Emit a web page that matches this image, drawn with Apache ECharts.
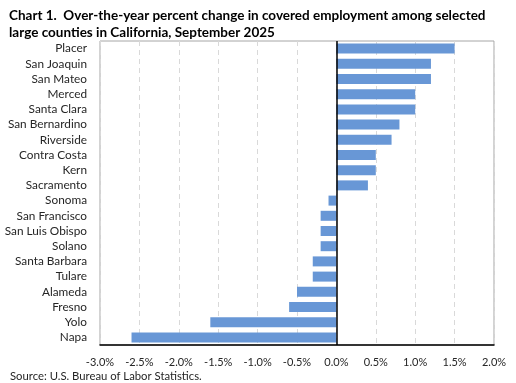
<!DOCTYPE html>
<html><head><meta charset="utf-8">
<script src="https://cdn.jsdelivr.net/npm/echarts@6/dist/echarts.min.js"></script>
<style>html,body{margin:0;padding:0;background:#fff}#c{width:516px;height:383px}</style>
</head><body><div id="c"></div>
<script>
var counties = ["Placer","San Joaquin","San Mateo","Merced","Santa Clara","San Bernardino","Riverside","Contra Costa","Kern","Sacramento","Sonoma","San Francisco","San Luis Obispo","Solano","Santa Barbara","Tulare","Alameda","Fresno","Yolo","Napa"];
var changes = [1.5,1.2,1.2,1.0,1.0,0.8,0.7,0.5,0.5,0.4,-0.1,-0.2,-0.2,-0.2,-0.3,-0.3,-0.5,-0.6,-1.6,-2.6];
var titleText = "Chart 1.  Over-the-year percent change in covered employment among selected\nlarge counties in California, September 2025";
var sourceText = "Source: U.S. Bureau of Labor Statistics.";
var xMin = -3.0, xMax = 2.0, xStep = 0.5;

var font = "Lato, 'Open Sans', sans-serif";
var chart = echarts.init(document.getElementById('c'), null, {renderer:'canvas'});
chart.setOption({
  animation:false,
  backgroundColor:'#fff',
  title:{text:titleText,left:4,top:2,textStyle:{fontFamily:font,fontWeight:'bold',fontSize:13.5,color:'#000',lineHeight:17}},
  graphic:[{type:'text',left:10,top:371,style:{text:sourceText,font:"11.3px "+font,fill:'#262626'}}],
  grid:{left:100,right:22,top:41,bottom:38,show:true,borderColor:'#a6a6a6',borderWidth:1,containLabel:false},
  xAxis:{type:'value',min:xMin,max:xMax,interval:xStep,
    axisLine:{show:true,onZero:false,lineStyle:{color:'#000',width:1.5}},
    axisTick:{show:false},
    splitLine:{show:true,lineStyle:{color:'#d9d9d9',type:[5,4],width:1}},
    axisLabel:{margin:12,fontFamily:font,fontSize:11,color:'#262626',formatter:function(v){return v.toFixed(1)+'%';}}},
  yAxis:{type:'category',data:counties,inverse:true,
    axisLine:{show:false},axisTick:{show:false},
    axisLabel:{interval:0,hideOverlap:false,margin:13,fontFamily:font,fontSize:11.8,color:'#262626'}},
  series:[{type:'bar',data:changes,barWidth:10,itemStyle:{color:'#6897D6'},
    markLine:{silent:true,symbol:['none','none'],label:{show:false},lineStyle:{color:'#000',type:'solid',width:1.5},data:[{xAxis:0}]}}]
});
</script></body></html>
